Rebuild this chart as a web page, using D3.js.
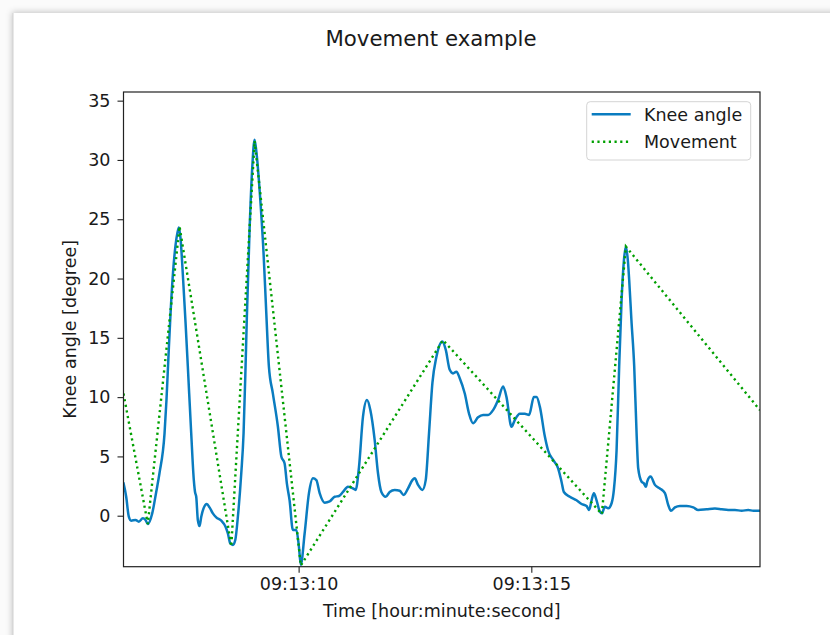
<!DOCTYPE html>
<html>
<head>
<meta charset="utf-8">
<script src="https://cdn.jsdelivr.net/npm/d3@7/dist/d3.min.js"></script>
<style>
  html, body { margin: 0; padding: 0; background: #ffffff; }
  svg { display: block; }
  text { font-family: "DejaVu Sans", sans-serif; fill: #1a1a1a; }
</style>
</head>
<body>
<svg id="chart" width="830" height="635"></svg>
<script>
// ---- data (seconds after 09:13:00) ----
const kneeTime = [6.237,6.295,6.351,6.402,6.495,6.566,6.652,6.710,6.759,6.854,6.940,7.011,7.118,7.161,7.204,7.247,7.301,7.355,7.398,7.428,7.462,7.495,7.527,7.570,7.619,7.692,7.748,7.774,7.800,7.834,7.871,7.908,7.957,8.028,8.086,8.157,8.230,8.338,8.430,8.480,8.531,8.587,8.639,8.695,8.768,8.817,8.860,8.888,8.946,9.004,9.054,9.103,9.161,9.247,9.305,9.361,9.447,9.555,9.628,9.699,9.748,9.806,9.877,9.951,10.006,10.047,10.129,10.222,10.308,10.381,10.452,10.559,10.667,10.774,10.867,10.953,11.060,11.168,11.226,11.297,11.383,11.469,11.542,11.634,11.705,11.778,11.871,11.957,12.065,12.172,12.258,12.351,12.445,12.495,12.566,12.660,12.731,12.802,12.875,12.961,13.090,13.161,13.247,13.318,13.391,13.462,13.570,13.662,13.748,13.856,13.963,14.071,14.178,14.286,14.394,14.467,14.574,14.645,14.753,14.860,14.953,15.054,15.112,15.183,15.290,15.361,15.469,15.576,15.649,15.699,15.828,15.972,16.080,16.187,16.243,16.295,16.344,16.402,16.473,16.516,16.581,16.652,16.725,16.774,16.832,16.888,16.940,16.989,17.032,17.075,17.103,17.151,17.211,17.262,17.297,17.370,17.419,17.462,17.490,17.563,17.656,17.763,17.871,17.942,18.000,18.086,18.194,18.338,18.480,18.587,18.768,18.946,19.090,19.232,19.376,19.520,19.662,19.770,19.914];
const kneeAngle = [2.75,1.6,-0.08,-0.42,-0.36,-0.5,-0.22,-0.36,-0.7,0.2,2.0,3.6,6.9,9.8,13.5,17.0,20.5,22.8,23.9,24.3,23.4,21.5,19.3,16.3,12.6,6.95,3.0,2.0,1.6,-0.36,-0.87,-0.08,0.62,0.99,0.7,0.2,-0.14,-0.42,-0.93,-1.5,-2.33,-2.47,-2.05,-0.08,3.6,6.95,12.6,16.8,24.1,29.4,31.7,30.3,27.5,22.1,17.1,12.6,10.3,7.5,5.0,4.4,2.7,1.3,-1.2,-1.2,-2.6,-4.15,-1.5,1.9,3.15,3.0,1.9,1.1,1.2,1.6,1.66,2.0,2.45,2.3,2.17,4.1,8.35,9.76,8.9,6.4,3.6,2.0,1.6,2.0,2.17,2.1,1.75,2.3,3.0,3.15,2.6,2.17,3.0,6.95,11.2,13.4,14.7,14.0,12.3,12.0,12.15,11.6,10.3,8.6,7.8,8.3,8.5,8.5,8.9,9.76,10.9,10.0,7.5,8.07,8.6,8.6,8.5,10.0,10.0,9.2,6.7,5.5,4.7,4.0,2.87,2.0,1.6,1.3,0.99,0.82,0.48,1.3,1.9,1.3,0.34,0.2,0.76,0.62,1.05,2.17,5.5,12.6,18.2,21.5,22.7,21.5,19.9,16.5,12.6,6.95,4.0,2.87,2.73,2.45,2.87,3.3,2.6,2.3,1.9,0.9,0.42,0.7,0.82,0.82,0.7,0.48,0.54,0.6,0.54,0.48,0.48,0.42,0.48,0.42,0.42];

const moveTime  = [6.237, 6.759, 7.441, 8.553, 9.054, 10.047, 13.103, 16.516, 17.032, 19.914];
const moveAngle = [10.3, -0.7, 24.4, -2.6, 31.6, -4.2, 14.8, 0.14, 22.7, 8.9];

const yTicks = [0, 5, 10, 15, 20, 25, 30, 35];
const xTickLabels = ["09:13:10", "09:13:15"];
const seriesNames = ["Knee angle", "Movement"];
const titleText = "Movement example";
const xLabelText = "Time [hour:minute:second]";
const yLabelText = "Knee angle [degree]";

// ---- helpers ----
const base = new Date(2000, 0, 1, 9, 13, 0);
const toDate = s => new Date(base.getTime() + s * 1000);
const parseT = d3.timeParse("%H:%M:%S");
const tickDates = xTickLabels.map(s => { const d = parseT(s); return new Date(2000, 0, 1, d.getHours(), d.getMinutes(), d.getSeconds()); });

const svg = d3.select("#chart");

// ---- window frame with shadow ----
const defs = svg.append("defs");
const f = defs.append("filter").attr("id", "shadow").attr("x", "-5%").attr("y", "-5%").attr("width", "110%").attr("height", "110%");
f.append("feDropShadow").attr("dx", -1).attr("dy", -1).attr("stdDeviation", 3).attr("flood-color", "#000").attr("flood-opacity", 0.22);
svg.append("rect").attr("x", 0).attr("y", 0).attr("width", 830).attr("height", 635).attr("fill", "#fbfbfb");
svg.append("rect").attr("x", 13).attr("y", 13).attr("width", 840).attr("height", 660)
  .attr("fill", "#ffffff").attr("filter", "url(#shadow)");
svg.append("line").attr("x1", 13).attr("x2", 13).attr("y1", 13).attr("y2", 635).attr("stroke", "#d2d2d2").attr("stroke-width", 1);

// ---- plot area ----
const L = 123.5, R = 760, T = 92, B = 566.7;
const x = d3.scaleTime().domain([toDate(kneeTime[0]), toDate(kneeTime[kneeTime.length - 1])]).range([L, R]);
const y = d3.scaleLinear().domain([-4.3, 35.73]).range([B, T]);

const clip = defs.append("clipPath").attr("id", "clip");
clip.append("rect").attr("x", L).attr("y", T - 2).attr("width", R - L).attr("height", B - T + 4);

const knee = kneeTime.map((t, i) => ({ t: toDate(t), v: kneeAngle[i] }));
const move = moveTime.map((t, i) => ({ t: toDate(t), v: moveAngle[i] }));

const kneeColor = "#0a7cc0", moveColor = "#00a000";

const g = svg.append("g").attr("clip-path", "url(#clip)");
g.append("path").datum(knee)
  .attr("fill", "none").attr("stroke", kneeColor).attr("stroke-width", 2.5)
  .attr("stroke-linejoin", "round").attr("stroke-linecap", "round")
  .attr("d", d3.line().x(d => x(d.t)).y(d => y(d.v)).curve(d3.curveMonotoneX));
g.append("path").datum(move)
  .attr("fill", "none").attr("stroke", moveColor).attr("stroke-width", 2.4)
  .attr("stroke-dasharray", "2.2,3.5")
  .attr("d", d3.line().x(d => x(d.t)).y(d => y(d.v)));

// ---- axes ----
const yAxis = svg.append("g").attr("transform", `translate(${L},0)`)
  .call(d3.axisLeft(y).tickValues(yTicks).tickSize(6).tickPadding(7).tickFormat(d3.format("d")));
const xAxis = svg.append("g").attr("transform", `translate(0,${B})`)
  .call(d3.axisBottom(x).tickValues(tickDates).tickSize(6).tickPadding(5).tickFormat(d3.timeFormat("%H:%M:%S")));
[yAxis, xAxis].forEach(a => {
  a.select(".domain").remove();
  a.selectAll(".tick line").attr("stroke", "#222").attr("stroke-width", 1.1);
  a.selectAll(".tick text").attr("font-size", 17.5).attr("fill", "#1a1a1a").attr("font-family", "DejaVu Sans");
});

svg.append("rect").attr("x", L).attr("y", T).attr("width", R - L).attr("height", B - T)
  .attr("fill", "none").attr("stroke", "#222").attr("stroke-width", 1.2);

// ---- labels ----
svg.append("text").attr("x", 431).attr("y", 46).attr("text-anchor", "middle")
  .attr("font-size", 21.3).text(titleText);
svg.append("text").attr("x", (L + R) / 2).attr("y", 617).attr("text-anchor", "middle")
  .attr("font-size", 17.5).text(xLabelText);
svg.append("text").attr("transform", `translate(76,${(T + B) / 2}) rotate(-90)`).attr("text-anchor", "middle")
  .attr("font-size", 17.5).text(yLabelText);

// ---- legend ----
const lg = svg.append("g");
lg.append("rect").attr("x", 586.7).attr("y", 101.7).attr("width", 164).attr("height", 58.3)
  .attr("rx", 3.5).attr("fill", "#ffffff").attr("fill-opacity", 0.85).attr("stroke", "#d4d4d4").attr("stroke-width", 1);
const rows = [
  { name: seriesNames[0], color: kneeColor, dash: null, w: 2.5 },
  { name: seriesNames[1], color: moveColor, dash: "2.2,3.5", w: 2.4 }
];
rows.forEach((r, i) => {
  const yy = 114.3 + i * 27.4;
  lg.append("line").attr("x1", 591.7).attr("x2", 630.7).attr("y1", yy).attr("y2", yy)
    .attr("stroke", r.color).attr("stroke-width", r.w).attr("stroke-dasharray", r.dash);
  lg.append("text").attr("x", 644).attr("y", yy + 6.4).attr("font-size", 17.5).text(r.name);
});
</script>
</body>
</html>
